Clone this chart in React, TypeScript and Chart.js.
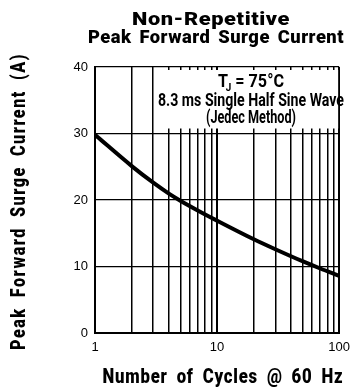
import { useEffect, useRef } from 'react';
import { Chart, registerables } from 'chart.js';

Chart.register(...registerables);

const cycles = [1, 2, 3, 4, 5, 7, 10, 20, 30, 50, 70, 100];
const surgeCurrent = [29.8, 25.1, 22.6, 21.0, 19.9, 18.4, 16.9, 14.1, 12.6, 10.8, 9.7, 8.6];
const xGridValues = [1, 2, 3, 4, 5, 6, 7, 8, 9, 10, 20, 30, 40, 50, 60, 70, 80, 90, 100];
const xTickLabels = [1, 10, 100];
const yTickValues = [0, 10, 20, 30, 40];
const titleLines = ['Non-Repetitive', 'Peak Forward Surge Current'];
const noteTemp = { main: 'T', sub: 'J', rest: ' = 75°C' };
const noteLines = ['8.3 ms Single Half Sine Wave', '(Jedec Method)'];
const xAxisTitle = 'Number of Cycles @ 60 Hz';
const yAxisTitle = 'Peak Forward Surge Current (A)';

const SANS = "'Liberation Sans', Arial, Helvetica, sans-serif";
const HEAVY = "Roboto, 'Liberation Sans', sans-serif";

// draw text squeezed horizontally to a given width (emulates a condensed face)
function drawFit(ctx: any, text: string, cx: number, y: number, font: string, width: number, spacing = '0px', words = '0px') {
  ctx.save();
  ctx.font = font;
  ctx.letterSpacing = spacing;
  ctx.wordSpacing = words;
  const w = ctx.measureText(text).width;
  ctx.translate(cx, y);
  ctx.scale(width / w, 1);
  ctx.textAlign = 'center';
  ctx.textBaseline = 'alphabetic';
  ctx.fillText(text, 0, 0);
  ctx.restore();
}

const decorPlugin = {
  id: 'decor',
  beforeDatasetsDraw(chart: any) {
    const ctx = chart.ctx;
    const xs = chart.scales.x;
    const ys = chart.scales.y;
    const left = xs.getPixelForValue(3) + 1;
    const right = xs.getPixelForValue(100) - 1;
    const top = ys.getPixelForValue(40) + 3;
    const bottom = ys.getPixelForValue(30) - 5;
    ctx.save();
    ctx.fillStyle = '#fff';
    ctx.fillRect(left, top, right - left, bottom - top);
    ctx.fillStyle = '#000';
    const cx = 251;
    const big = `bold 18px ${HEAVY}`;
    const small = `bold 11px ${HEAVY}`;
    ctx.font = big;
    const wMain = ctx.measureText(noteTemp.main).width;
    const wRest = ctx.measureText(noteTemp.rest).width;
    ctx.font = small;
    const wSub = ctx.measureText(noteTemp.sub).width;
    const natural = wMain + wSub * 0.6 + wRest;
    const target = 66;
    const sx = target / natural;
    ctx.translate(cx - target / 2, 87);
    ctx.scale(sx, 1);
    ctx.textAlign = 'left';
    ctx.textBaseline = 'alphabetic';
    ctx.font = big;
    ctx.fillText(noteTemp.main, 0, 0);
    ctx.font = small;
    ctx.fillText(noteTemp.sub, wMain - wSub * 0.4, 4);
    ctx.font = big;
    ctx.fillText(noteTemp.rest, wMain + wSub * 0.6, 0);
    ctx.restore();
    ctx.save();
    ctx.fillStyle = '#000';
    drawFit(ctx, noteLines[0], cx, 106, big, 186);
    drawFit(ctx, noteLines[1], cx, 123, big, 90);
    ctx.restore();
  },
  afterDraw(chart: any) {
    const ctx = chart.ctx;
    ctx.save();
    ctx.fillStyle = '#000';
    const tfont = `900 19px ${HEAVY}`;
    drawFit(ctx, titleLines[0], 211, 25, tfont, 158, '0.5px');
    drawFit(ctx, titleLines[1], 216, 43, tfont, 256, '0.5px', '3px');
    const afont = `900 21px ${HEAVY}`;
    drawFit(ctx, xAxisTitle, 223, 383, afont, 241, '1px', '5px');
    ctx.save();
    ctx.translate(25, 201.5);
    ctx.rotate(-Math.PI / 2);
    drawFit(ctx, yAxisTitle, 0, 0, afont, 297, '2px', '6px');
    ctx.restore();
    ctx.restore();
  },
};

export default function App() {
  const ref = useRef<HTMLCanvasElement | null>(null);
  useEffect(() => {
    document.body.style.margin = '0';
    document.body.style.overflow = 'hidden';
    const canvas = ref.current;
    if (!canvas) return;
    const chart = new Chart(canvas, {
      type: 'line',
      data: {
        datasets: [
          {
            data: cycles.map((c, i) => ({ x: c, y: surgeCurrent[i] })),
            borderColor: '#000',
            borderWidth: 4,
            pointRadius: 0,
            cubicInterpolationMode: 'monotone',
            fill: false,
          },
        ],
      },
      options: {
        animation: false,
        responsive: false,
        devicePixelRatio: 1,
        layout: { autoPadding: false, padding: { top: 67, right: 9, left: 0, bottom: 0 } },
        plugins: { legend: { display: false }, tooltip: { enabled: false }, title: { display: false } },
        scales: {
          x: {
            type: 'logarithmic',
            min: 1,
            max: 100,
            afterBuildTicks: (s: any) => {
              s.ticks = xGridValues.map((v) => ({ value: v }));
            },
            afterFit: (s: any) => {
              s.height = 55;
            },
            ticks: {
              autoSkip: false,
              maxRotation: 0,
              padding: 7,
              color: '#000',
              font: { family: SANS, size: 13 },
              callback: (v: any) => (xTickLabels.includes(Number(v)) ? String(v) : ''),
            },
            grid: {
              color: '#000',
              drawTicks: false,
              lineWidth: (c: any) => (c.tick && xTickLabels.includes(c.tick.value) ? 2 : 1.5),
            },
            border: { display: true, color: '#000', width: 2 },
          },
          y: {
            type: 'linear',
            min: 0,
            max: 40,
            afterBuildTicks: (s: any) => {
              s.ticks = yTickValues.map((v) => ({ value: v }));
            },
            afterFit: (s: any) => {
              s.width = 95;
            },
            ticks: {
              padding: 7,
              color: '#000',
              font: { family: SANS, size: 13 },
            },
            grid: { color: '#000', drawTicks: false, lineWidth: 1.3 },
            border: { display: true, color: '#000', width: 2 },
          },
        },
      } as any,
      plugins: [decorPlugin],
    });
    return () => chart.destroy();
  }, []);
  return (
    <div style={{ width: 357, height: 388 }}>
      <canvas ref={ref} width={357} height={388} style={{ display: 'block' }} />
    </div>
  );
}
